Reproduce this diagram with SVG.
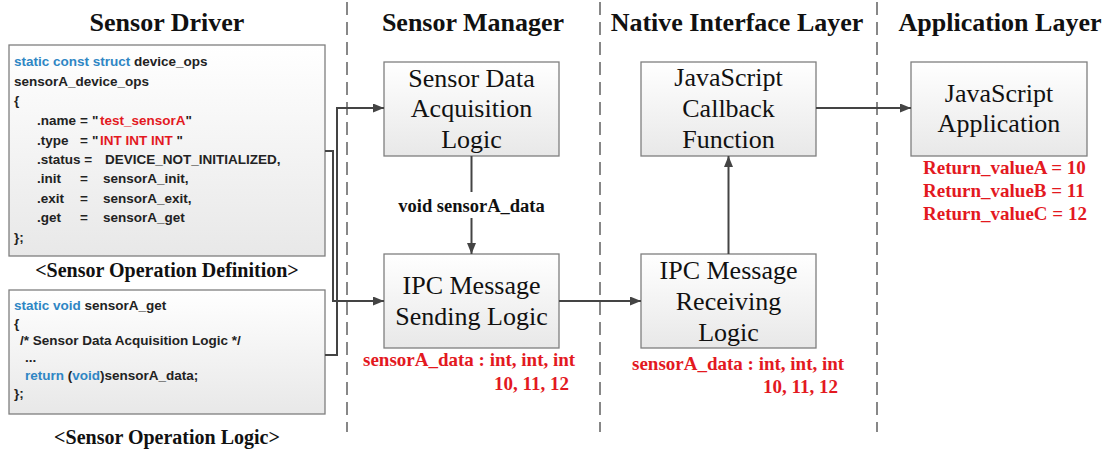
<svg xmlns="http://www.w3.org/2000/svg" width="1106" height="451" viewBox="0 0 1106 451">
<style>
.title{font-family:"Liberation Serif","Times New Roman",serif;font-weight:bold;font-size:26px;fill:#111;text-anchor:middle}
.cap{font-family:"Liberation Serif","Times New Roman",serif;font-weight:bold;font-size:20px;fill:#111;text-anchor:middle}
.box{fill:url(#g);stroke:#7f7f7f;stroke-width:1.3}
.bt{font-family:"Liberation Serif","Times New Roman",serif;font-size:26px;fill:#111;text-anchor:middle}
.code{font-family:"Liberation Sans",Arial,sans-serif;font-weight:bold;font-size:13.5px;fill:#222}
.kw{fill:#2f86c4}
.rd{fill:#e3191f}
.red{font-family:"Liberation Serif","Times New Roman",serif;font-weight:bold;font-size:19px;fill:#e3191f}
.lbl{font-family:"Liberation Serif","Times New Roman",serif;font-weight:bold;font-size:18.5px;fill:#111;text-anchor:middle}
.dash{stroke:#6a6a6a;stroke-width:1.6;stroke-dasharray:13 7;fill:none}
.conn{stroke:#444;stroke-width:2;fill:none}
</style>
<defs>
<linearGradient id="g" x1="0" y1="0" x2="0" y2="1">
<stop offset="0" stop-color="#ffffff"/>
<stop offset="1" stop-color="#e8e8e8"/>
</linearGradient>
<marker id="ah" markerUnits="userSpaceOnUse" markerWidth="11" markerHeight="9" refX="11" refY="4.5" orient="auto">
<path d="M0,0 L11,4.5 L0,9 z" fill="#444"/>
</marker>
</defs>

<g id="lanes">
<line class="dash" x1="347" y1="2" x2="347" y2="432"/>
<line class="dash" x1="600" y1="2" x2="600" y2="432"/>
<line class="dash" x1="877" y1="2" x2="877" y2="432"/>
<text class="title" x="167" y="31">Sensor Driver</text>
<text class="title" x="473" y="31">Sensor Manager</text>
<text class="title" x="737" y="31">Native Interface Layer</text>
<text class="title" x="1000" y="31">Application Layer</text>
</g>

<g id="code-definition">
<rect class="box" x="9" y="45" width="316" height="211"/>
<text class="code" x="14" y="66"><tspan class="kw">static const struct</tspan> device_ops</text>
<text class="code" x="14" y="86">sensorA_device_ops</text>
<text class="code" x="14" y="105">{</text>
<text class="code" y="125"><tspan x="37">.name</tspan><tspan x="80">=</tspan><tspan x="92">"</tspan><tspan class="rd" x="100">test_sensorA</tspan>"</text>
<text class="code" y="145"><tspan x="37">.type</tspan><tspan x="80">=</tspan><tspan x="92">"</tspan><tspan class="rd" x="100">INT INT INT</tspan> "</text>
<text class="code" y="164"><tspan x="37">.status =</tspan><tspan x="105">DEVICE_NOT_INITIALIZED,</tspan></text>
<text class="code" y="183"><tspan x="37">.init</tspan><tspan x="80">=</tspan><tspan x="103">sensorA_init,</tspan></text>
<text class="code" y="203"><tspan x="37">.exit</tspan><tspan x="80">=</tspan><tspan x="103">sensorA_exit,</tspan></text>
<text class="code" y="222"><tspan x="37">.get</tspan><tspan x="80">=</tspan><tspan x="103">sensorA_get</tspan></text>
<text class="code" x="14" y="242">};</text>
<text class="cap" x="167" y="277">&lt;Sensor Operation Definition&gt;</text>
</g>

<g id="code-logic">
<rect class="box" x="9" y="290" width="316" height="124"/>
<text class="code" x="14" y="310"><tspan class="kw">static void</tspan> sensorA_get</text>
<text class="code" x="14" y="328">{</text>
<text class="code" x="20" y="345">/* Sensor Data Acquisition Logic */</text>
<text class="code" x="25" y="362">...</text>
<text class="code" x="25" y="380"><tspan class="kw">return</tspan> (<tspan class="kw">void</tspan>)sensorA_data;</text>
<text class="code" x="14" y="398">};</text>
<text class="cap" x="167" y="444">&lt;Sensor Operation Logic&gt;</text>
</g>

<g id="sensor-data-acquisition">
<rect class="box" x="384" y="62" width="175" height="94"/>
<text class="bt" x="471.5" y="87">Sensor Data</text>
<text class="bt" x="471.5" y="117">Acquisition</text>
<text class="bt" x="471.5" y="148">Logic</text>
</g>

<g id="ipc-sending">
<rect class="box" x="384" y="254" width="175" height="94"/>
<text class="bt" x="471.5" y="294">IPC Message</text>
<text class="bt" x="471.5" y="325">Sending Logic</text>
<text class="red" x="363" y="366">sensorA_data : int, int, int</text>
<text class="red" x="494" y="390">10, 11, 12</text>
</g>

<g id="ipc-receiving">
<rect class="box" x="641" y="254" width="175" height="94"/>
<text class="bt" x="728.5" y="279">IPC Message</text>
<text class="bt" x="728.5" y="310">Receiving</text>
<text class="bt" x="728.5" y="341">Logic</text>
<text class="red" x="632" y="370">sensorA_data : int, int, int</text>
<text class="red" x="763" y="393">10, 11, 12</text>
</g>

<g id="js-callback">
<rect class="box" x="641" y="62" width="175" height="94"/>
<text class="bt" x="728.5" y="86">JavaScript</text>
<text class="bt" x="728.5" y="117">Callback</text>
<text class="bt" x="728.5" y="148">Function</text>
</g>

<g id="js-application">
<rect class="box" x="911" y="62" width="176" height="94"/>
<text class="bt" x="999" y="102">JavaScript</text>
<text class="bt" x="999" y="132">Application</text>
<text class="red" x="923" y="174">Return_valueA = 10</text>
<text class="red" x="923" y="197">Return_valueB = 11</text>
<text class="red" x="923" y="220">Return_valueC = 12</text>
</g>

<g id="connectors">
<polyline class="conn" points="325,151 333,151 333,301 384,301" marker-end="url(#ah)"/>
<polyline class="conn" points="325,355 337,355 337,108 384,108" marker-end="url(#ah)"/>
<line class="conn" x1="471.5" y1="156" x2="471.5" y2="192"/>
<text class="lbl" x="471.5" y="212">void sensorA_data</text>
<line class="conn" x1="471.5" y1="218" x2="471.5" y2="254" marker-end="url(#ah)"/>
<line class="conn" x1="559" y1="301" x2="641" y2="301" marker-end="url(#ah)"/>
<line class="conn" x1="728.5" y1="254" x2="728.5" y2="156" marker-end="url(#ah)"/>
<line class="conn" x1="816" y1="108" x2="911" y2="108" marker-end="url(#ah)"/>
</g>
</svg>
